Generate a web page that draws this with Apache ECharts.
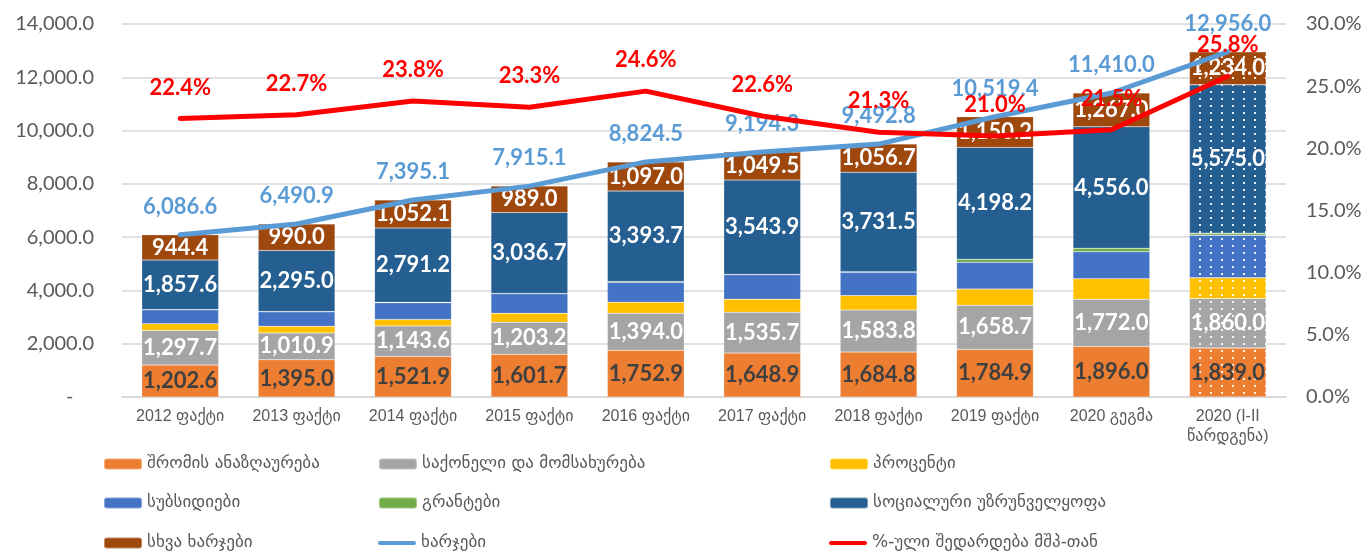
<!DOCTYPE html>
<html>
<head>
<meta charset="utf-8">
<script src="https://cdn.jsdelivr.net/npm/echarts@6/dist/echarts.min.js"></script>
<style>
html,body{margin:0;padding:0;background:#fff;}
#c{width:1368px;height:553px;}
</style>
</head>
<body>
<div id="c"></div>
<script>
const categories = ['2012 ფაქტი','2013 ფაქტი','2014 ფაქტი','2015 ფაქტი','2016 ფაქტი','2017 ფაქტი','2018 ფაქტი','2019 ფაქტი','2020 გეგმა','2020 (I-II\nწარდგენა)'];
const labor     = [1202.6,1395.0,1521.9,1601.7,1752.9,1648.9,1684.8,1784.9,1896.0,1839.0];
const goods     = [1297.7,1010.9,1143.6,1203.2,1394.0,1535.7,1583.8,1658.7,1772.0,1860.0];
const interest  = [250,250,245,335,413,488,537,612,770,776];
const subsidies = [520,540,630,735,750,915,875,1000,1015,1597];
const grants    = [14.3,10,11.3,14.5,23.9,13.3,24,115.4,134,75];
const social    = [1857.6,2295.0,2791.2,3036.7,3393.7,3543.9,3731.5,4198.2,4556.0,5575.0];
const other     = [944.4,990.0,1052.1,989.0,1097.0,1049.5,1056.7,1150.2,1267.0,1234.0];
const total     = [6086.6,6490.9,7395.1,7915.1,8824.5,9194.3,9492.8,10519.4,11410.0,12956.0];
const gdpShare  = [22.4,22.7,23.8,23.3,24.6,22.6,21.3,21.0,21.5,25.8];
const leftTicks = {min:0, max:14000, interval:2000};
const rightTicks = {min:0, max:30, interval:5};

const names = ['შრომის ანაზღაურება','საქონელი და მომსახურება','პროცენტი','სუბსიდიები','გრანტები','სოციალური უზრუნველყოფა','სხვა ხარჯები','ხარჯები','%-ული შედარდება მშპ-თან'];
const colors = ['#ED7D31','#A5A5A5','#FFC000','#4472C4','#70AD47','#255E91','#9E480E','#5B9BD5','#FF0000'];

const fmt = v => v.toLocaleString('en-US',{minimumFractionDigits:1, maximumFractionDigits:1});
const numFont = 'Lato';
const decal = {symbol:'rect', symbolSize:1, dashArrayX:[[1.5,8.5]], dashArrayY:[2,5], color:'rgba(255,255,255,0.9)'};

function barData(arr){
  return arr.map((v,i)=> i===arr.length-1 ? {value:v, itemStyle:{decal:decal}} : v);
}
function barSeries(idx, arr, labelColor){
  const s = {
    name: names[idx], type:'bar', stack:'a', data: barData(arr),
    barCategoryGap:'34%',
    itemStyle:{color:colors[idx], borderColor:'rgba(255,255,255,0.35)', borderWidth:0.5},
    label:{show:false}
  };
  if(labelColor){
    s.label = {show:true, position:'inside', color:labelColor, fontFamily:numFont, fontWeight:'bold', fontSize:22,
      formatter:p=>fmt(p.value)};
  }
  return s;
}
const pill = 'path://M2,0 L36,0 A2,2 0 0 1 36,4 L2,4 A2,2 0 0 1 2,0 Z';
const legendCols = [103, 378, 829];
const legendRows = [464, 503, 543];
const legends = names.map((nm, k) => {
  const col = k % 3, row = Math.floor(k / 3);
  const item = (k === 7 || k === 8) ? {name:nm, icon:pill} : nm;
  return {orient:'horizontal', left:legendCols[col], top:legendRows[row]-10, padding:0,
    itemWidth:38, itemHeight:11, data:[item], selectedMode:false,
    textStyle:{fontFamily:'DejaVu Sans', fontSize:17, color:'#595959', lineHeight:20}};
});

const option = {
  animation:false,
  backgroundColor:'#fff',
  grid:{left:122, right:82, top:24, bottom:156},
  legend: legends,
  xAxis:{type:'category', data:categories,
    axisLine:{lineStyle:{color:'#D9D9D9', width:2}}, axisTick:{show:false},
    axisLabel:{fontFamily:'Liberation Sans, DejaVu Sans', fontSize:16, color:'#595959', margin:10, interval:0, lineHeight:20}},
  yAxis:[
    {type:'value', min:leftTicks.min, max:leftTicks.max, interval:leftTicks.interval,
      axisLine:{show:false}, axisTick:{show:false},
      splitLine:{lineStyle:{color:'#D9D9D9', width:1.5}},
      axisLabel:{fontFamily:numFont, fontSize:20, color:'#595959', margin:28,
        formatter:v=> v===0 ? '-    ' : fmt(v)}},
    {type:'value', min:rightTicks.min, max:rightTicks.max, interval:rightTicks.interval,
      axisLine:{show:false}, axisTick:{show:false}, splitLine:{show:false},
      axisLabel:{fontFamily:numFont, fontSize:20, color:'#595959', margin:20,
        formatter:v=> v.toFixed(1)+'%'}}
  ],
  series:[
    barSeries(0, labor, '#404040'),
    barSeries(1, goods, '#FFFFFF'),
    barSeries(2, interest, null),
    barSeries(3, subsidies, null),
    barSeries(4, grants, null),
    barSeries(5, social, '#FFFFFF'),
    barSeries(6, other, '#FFFFFF'),
    {name:names[7], type:'line', data:total, symbol:'circle', symbolSize:0.1, showSymbol:true, z:5,
      lineStyle:{color:colors[7], width:5, cap:'round'}, itemStyle:{color:colors[7]},
      label:{show:true, position:'top', distance:17, color:colors[7], fontFamily:numFont, fontWeight:'bold', fontSize:22,
        formatter:p=>fmt(p.value)}},
    {name:names[8], type:'line', yAxisIndex:1, data:gdpShare, symbol:'circle', symbolSize:0.1, showSymbol:true, z:6,
      lineStyle:{color:colors[8], width:5, cap:'round'}, itemStyle:{color:colors[8]},
      label:{show:true, position:'top', distance:20, color:colors[8], fontFamily:numFont, fontWeight:'bold', fontSize:22,
        formatter:p=>p.value.toFixed(1)+'%'}}
  ]
};
const chart = echarts.init(document.getElementById('c'), null, {renderer:'canvas'});
chart.setOption(option);
</script>
</body>
</html>
